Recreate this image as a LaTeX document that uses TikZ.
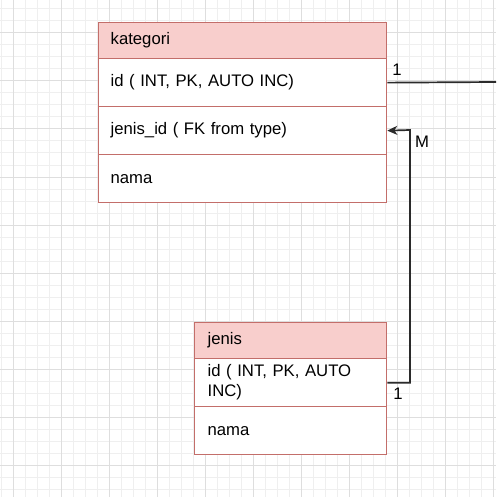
\documentclass[tikz,border=0pt]{standalone}
\usepackage{fontspec}
\setmainfont{Liberation Sans}
\usetikzlibrary{arrows.meta}
\definecolor{hdrfill}{HTML}{F8CECC}
\definecolor{hdrline}{HTML}{B85450}
\definecolor{gridminor}{HTML}{EFEFEF}
\definecolor{gridmajor}{HTML}{DEDEDE}
\definecolor{edgecol}{HTML}{2B2B2B}
\tikzset{
  cell/.style={draw=hdrline!85!white, line width=1.3pt, fill=white, rectangle, anchor=north west,
    inner ysep=0pt, align=left,
    font=\fontsize{16.7}{20}\selectfont},
  kcell/.style={cell, inner xsep=12pt, text width=264pt, minimum width=288pt},
  jcell/.style={cell, inner xsep=13pt, text width=166pt, minimum width=192pt},
  hdr/.style={fill=hdrfill, minimum height=36pt},
  row/.style={minimum height=48pt},
  lbl/.style={font=\fontsize{16.7}{20}\selectfont, inner sep=0pt, text=black},
  rel/.style={draw=edgecol, line width=1.7pt},
}
\begin{document}
\begin{tikzpicture}[x=1pt,y=-1pt]
\useasboundingbox (0,0) rectangle (496,497);
\fill[white] (0,0) rectangle (496,497);
% grid
\foreach \x in {1,13,...,496} \draw[gridminor, line width=1pt] (\x,0) -- (\x,497);
\foreach \y in {9,21,...,497} \draw[gridminor, line width=1pt] (0,\y) -- (496,\y);
\foreach \x in {13,61,...,496} \draw[gridmajor, line width=1pt] (\x,0) -- (\x,497);
\foreach \y in {33,81,...,497} \draw[gridmajor, line width=1pt] (0,\y) -- (496,\y);
% kategori table
\node[kcell, hdr] (khead) at (98,22) {kategori};
\node[kcell, row] (kid) at (98,58) {id ( INT, PK, AUTO INC)};
\node[kcell, row] (kjid) at (98,106) {jenis\_id ( FK from type)};
\node[kcell, row] (knama) at (98,154) {nama};
% jenis table
\node[jcell, hdr] (jhead) at (194,322) {jenis};
\node[jcell, row] (jid) at (194,358) {id ( INT, PK, AUTO\\INC)};
\node[jcell, row] (jnama) at (194,406) {nama};
% connectors
\coordinate (offright) at (496,82);
\coordinate (bend) at (410,130);
\draw[rel] (kid.east) -- (offright);
\draw[rel, -{Stealth[length=10pt,width=9pt,inset=3pt]}] (jid.east) -| (bend) -- (kjid.east);
% labels
\node[lbl] (l1) at (397,70) {1};
\node[lbl] (lm) at (422,142) {M};
\node[lbl] (l2) at (398,394) {1};
\end{tikzpicture}
\end{document}
